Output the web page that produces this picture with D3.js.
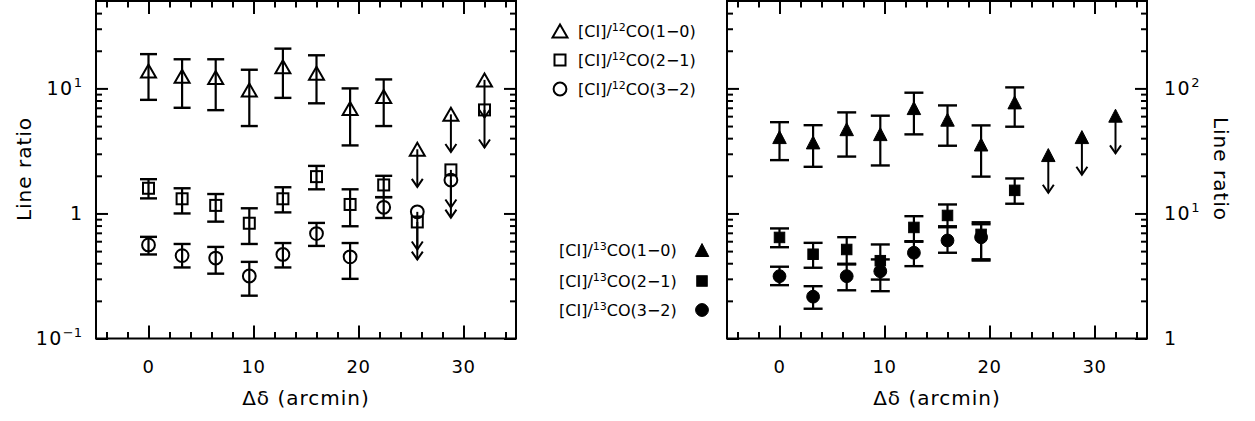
<!DOCTYPE html>
<html><head><meta charset="utf-8">
<script src="https://cdn.jsdelivr.net/npm/d3@7"></script>
<style>
body{margin:0;background:#fff}
svg{display:block}
text{font-family:"DejaVu Sans",sans-serif;fill:#000}
</style>
</head><body>
<svg id="c" width="1255" height="421"></svg>
<script>
// ---------- data ----------
const offsets = [0, 3.2, 6.4, 9.6, 12.8, 16, 19.2, 22.4, 25.6, 28.8, 32];

// left panel: [CI]/12CO ratios (open symbols)
const ci12co10    = [13.8, 12.5, 12.2, 9.7, 14.9, 13.2, 6.9, 8.6, 3.26, 6.2, 11.7];
const ci12co10Lo  = [8.1, 7.0, 6.7, 5.0, 8.4, 7.6, 3.5, 5.0, null, null, null];
const ci12co10Hi  = [18.8, 17.1, 17.1, 14.1, 20.8, 18.4, 10.0, 11.8, null, null, null];
const ci12co10Lim = [false, false, false, false, false, false, false, false, true, true, true];

const ci12co21    = [1.59, 1.31, 1.16, 0.835, 1.31, 1.97, 1.18, 1.69, 0.855, 2.23, 6.73];
const ci12co21Lo  = [1.32, 1.0, 0.86, 0.57, 1.02, 1.56, 0.79, 1.35, null, null, null];
const ci12co21Hi  = [1.88, 1.59, 1.43, 1.10, 1.62, 2.40, 1.56, 2.0, null, null, null];
const ci12co21Lim = [false, false, false, false, false, false, false, false, true, true, true];

const ci12co32    = [0.56, 0.46, 0.44, 0.316, 0.47, 0.69, 0.45, 1.12, 1.03, 1.85];
const ci12co32Lo  = [0.47, 0.37, 0.33, 0.22, 0.37, 0.55, 0.30, 0.92, null, null];
const ci12co32Hi  = [0.65, 0.57, 0.54, 0.41, 0.58, 0.84, 0.58, 1.35, null, null];
const ci12co32Lim = [false, false, false, false, false, false, false, false, true, true];

// right panel: [CI]/13CO ratios (filled symbols)
const ci13co10    = [40.8, 37, 47.2, 43.1, 69.6, 56.2, 35.6, 77.3, 29.3, 40.8, 60.5];
const ci13co10Lo  = [26.7, 23.6, 28.5, 24.2, 42.9, 34.8, 19.7, 49.4, null, null, null];
const ci13co10Hi  = [53.7, 50.8, 64.3, 60.5, 92.4, 73.1, 50.6, 101.9, null, null, null];
const ci13co10Lim = [false, false, false, false, false, false, false, false, true, true, true];

const ci13co21    = [6.43, 4.72, 5.15, 4.19, 7.73, 9.64, 6.8, 15.3];
const ci13co21Lo  = [5.37, 3.68, 3.96, 2.96, 5.94, 7.9, 4.2, 11.96];
const ci13co21Hi  = [7.59, 5.82, 6.46, 5.65, 9.51, 11.8, 8.5, 19.05];
const ci13co21Lim = [false, false, false, false, false, false, false, false];

const ci13co32    = [3.15, 2.16, 3.15, 3.45, 4.85, 6.08, 6.45];
const ci13co32Lo  = [2.67, 1.73, 2.43, 2.39, 3.79, 4.85, 4.3];
const ci13co32Hi  = [3.75, 2.62, 3.91, 4.29, 6.0, 7.76, 8.2];
const ci13co32Lim = [false, false, false, false, false, false, false];

const xMajor = [0, 10, 20, 30];
const xMinor = [-4, -2, 2, 4, 6, 8, 12, 14, 16, 18, 22, 24, 26, 28, 32, 34];
const xLabels = ["0", "10", "20", "30"];
const leftYMajor = [0.1, 1, 10];
const leftYMinor = [0.2,0.3,0.4,0.5,0.6,0.7,0.8,0.9,2,3,4,5,6,7,8,9,20,30,40];
const leftYLabels = [["10","−1"], ["1",""], ["10","1"]];
const rightYMajor = [1, 10, 100];
const rightYMinor = [2,3,4,5,6,7,8,9,20,30,40,50,60,70,80,90,200,300,400];
const rightYLabels = [["1",""], ["10","1"], ["10","2"]];
const legend12 = [["[CI]/","12","CO(1−0)","triangle"],["[CI]/","12","CO(2−1)","square"],["[CI]/","12","CO(3−2)","circle"]];
const legend13 = [["[CI]/","13","CO(1−0)","triangle"],["[CI]/","13","CO(2−1)","square"],["[CI]/","13","CO(3−2)","circle"]];

// ---------- drawing ----------
const svg = d3.select("#c");
const yTop = 1, yBottom = 338.5;

function marker(g, shape, cx, cy, filled) {
  const sw = 2;
  if (shape === "triangle") {
    const w = filled ? 13.5 : 15, h = 13;
    g.append("path").attr("d", `M${cx},${cy-h/2} L${cx+w/2},${cy+h/2} L${cx-w/2},${cy+h/2} Z`)
      .attr("fill", filled ? "#000" : "none").attr("stroke", "#000").attr("stroke-width", filled ? 1 : sw)
      .attr("stroke-linejoin", "miter");
  } else if (shape === "square") {
    const s = filled ? 10.5 : 11;
    g.append("rect").attr("x", cx-s/2).attr("y", cy-s/2).attr("width", s).attr("height", s)
      .attr("fill", filled ? "#000" : "none").attr("stroke", "#000").attr("stroke-width", filled ? 1 : sw);
  } else {
    g.append("circle").attr("cx", cx).attr("cy", cy).attr("r", 6.4)
      .attr("fill", filled ? "#000" : "none").attr("stroke", "#000").attr("stroke-width", filled ? 1 : sw);
  }
}

function panel(opts) {
  const x = d3.scaleLinear().domain([-5, 35]).range([opts.x0, opts.x1]);
  const y = d3.scaleLog().domain(opts.ydom).range([yBottom, yTop]);
  const g = svg.append("g");

  const axes = [
    [d3.axisBottom, `translate(0,${yBottom})`, x, xMajor, 13],
    [d3.axisBottom, `translate(0,${yBottom})`, x, xMinor, 6.5],
    [d3.axisTop, `translate(0,${yTop})`, x, xMajor, 13],
    [d3.axisTop, `translate(0,${yTop})`, x, xMinor, 6.5],
    [d3.axisLeft, `translate(${opts.x0},0)`, y, opts.yMajor, 12],
    [d3.axisLeft, `translate(${opts.x0},0)`, y, opts.yMinor, 6],
    [d3.axisRight, `translate(${opts.x1},0)`, y, opts.yMajor, 12],
    [d3.axisRight, `translate(${opts.x1},0)`, y, opts.yMinor, 6]
  ];
  axes.forEach(([fn, tr, sc, vals, len]) => {
    const a = g.append("g").attr("transform", tr)
      .call(fn(sc).tickValues(vals).tickSize(-len).tickFormat(""));
    a.select(".domain").remove();
    a.selectAll("line").attr("stroke", "#000").attr("stroke-width", 2);
  });
  g.append("rect").attr("x", opts.x0).attr("y", yTop).attr("width", opts.x1 - opts.x0).attr("height", yBottom - yTop)
    .attr("fill", "none").attr("stroke", "#000").attr("stroke-width", 2);

  g.selectAll(".xl").data(xMajor).enter().append("text")
    .attr("x", d => x(d)).attr("y", 373).attr("text-anchor", "middle").attr("font-size", 18)
    .attr("letter-spacing", 0.5)
    .text((d, i) => xLabels[i]);
  g.append("text").attr("x", (opts.x0 + opts.x1) / 2).attr("y", 405).attr("text-anchor", "middle")
    .attr("font-size", 20).attr("letter-spacing", 1).text("Δδ (arcmin)");

  opts.yMajor.forEach((v, i) => {
    const [b, e] = opts.yLabels[i];
    const t = g.append("text").attr("x", opts.labelX).attr("y", y(v) + 6.5)
      .attr("text-anchor", opts.side === "left" ? "end" : "start").attr("font-size", 19);
    t.append("tspan").attr("letter-spacing", e ? 1.5 : 0).text(b);
    if (e) t.append("tspan").attr("dy", -8).attr("font-size", 13).text(e);
  });
  if (opts.side === "left") {
    g.append("text").attr("transform", `translate(31,169) rotate(-90)`).attr("text-anchor", "middle")
      .attr("font-size", 20).attr("letter-spacing", 1).text("Line ratio");
  } else {
    g.append("text").attr("transform", `translate(1214,169) rotate(90)`).attr("text-anchor", "middle")
      .attr("font-size", 20).attr("letter-spacing", 1).text("Line ratio");
  }

  const cap = opts.cap;
  opts.series.forEach(s => {
    const sg = g.append("g");
    s.values.forEach((v, i) => {
      const cx = x(offsets[i]), cy = y(v);
      if (s.lim[i]) {
        const ty = y(v / 2);
        sg.append("line").attr("x1", cx).attr("x2", cx).attr("y1", cy).attr("y2", ty)
          .attr("stroke", "#000").attr("stroke-width", 2);
        sg.append("path").attr("d", `M${cx-5.5},${ty-8} L${cx},${ty} L${cx+5.5},${ty-8}`)
          .attr("fill", "none").attr("stroke", "#000").attr("stroke-width", 2);
      } else {
        const y1 = y(s.hi[i]), y2 = y(s.lo[i]);
        sg.append("line").attr("x1", cx).attr("x2", cx).attr("y1", y1).attr("y2", y2)
          .attr("stroke", "#000").attr("stroke-width", 2.2);
        [y1, y2].forEach(yy => sg.append("line").attr("x1", cx - cap/2).attr("x2", cx + cap/2)
          .attr("y1", yy).attr("y2", yy).attr("stroke", "#000").attr("stroke-width", 2.4));
      }
      marker(sg, s.shape, cx, cy, s.filled);
    });
  });
}

panel({
  x0: 96, x1: 516, ydom: [0.1, 50], side: "left", labelX: 82, cap: 17,
  yMajor: leftYMajor, yMinor: leftYMinor, yLabels: leftYLabels,
  series: [
    {values: ci12co10, lo: ci12co10Lo, hi: ci12co10Hi, lim: ci12co10Lim, shape: "triangle", filled: false},
    {values: ci12co21, lo: ci12co21Lo, hi: ci12co21Hi, lim: ci12co21Lim, shape: "square", filled: false},
    {values: ci12co32, lo: ci12co32Lo, hi: ci12co32Hi, lim: ci12co32Lim, shape: "circle", filled: false}
  ]
});
panel({
  x0: 727, x1: 1147, ydom: [1, 500], side: "right", labelX: 1164, cap: 19,
  yMajor: rightYMajor, yMinor: rightYMinor, yLabels: rightYLabels,
  series: [
    {values: ci13co10, lo: ci13co10Lo, hi: ci13co10Hi, lim: ci13co10Lim, shape: "triangle", filled: true},
    {values: ci13co21, lo: ci13co21Lo, hi: ci13co21Hi, lim: ci13co21Lim, shape: "square", filled: true},
    {values: ci13co32, lo: ci13co32Lo, hi: ci13co32Hi, lim: ci13co32Lim, shape: "circle", filled: true}
  ]
});

const lg = svg.append("g");
const leg12Y = [31, 60, 89], leg13Y = [250, 281, 310];
legend12.forEach((d, i) => {
  marker(lg, d[3], 560, leg12Y[i], false);
  const t = lg.append("text").attr("x", 578).attr("y", leg12Y[i] + 6).attr("font-size", 16);
  t.append("tspan").text(d[0]);
  t.append("tspan").attr("dy", -6).attr("font-size", 11).text(d[1]);
  t.append("tspan").attr("dy", 6).text(d[2]);
});
legend13.forEach((d, i) => {
  marker(lg, d[3], 702, leg13Y[i], true);
  const t = lg.append("text").attr("x", 559).attr("y", leg13Y[i] + 6).attr("font-size", 16);
  t.append("tspan").text(d[0]);
  t.append("tspan").attr("dy", -6).attr("font-size", 11).text(d[1]);
  t.append("tspan").attr("dy", 6).text(d[2]);
});
</script>
</body></html>
